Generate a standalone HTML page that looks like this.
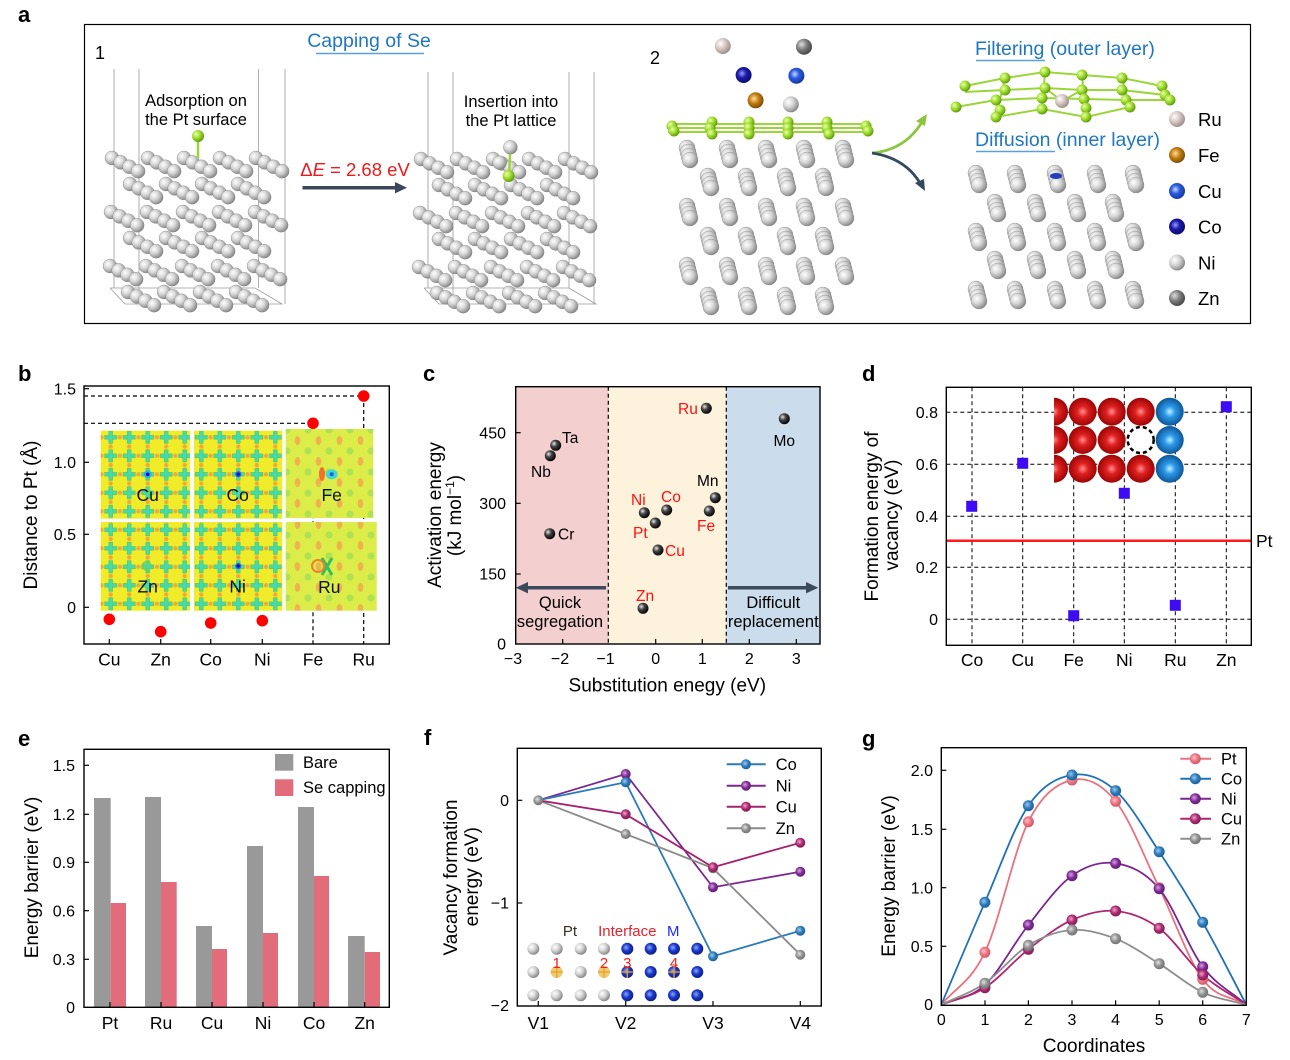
<!DOCTYPE html>
<html><head><meta charset="utf-8"><style>
html,body{margin:0;padding:0;background:#fff;}
svg{display:block;font-family:"Liberation Sans",Arial,sans-serif;}
</style></head><body>
<svg width="1290" height="1060" viewBox="0 0 1290 1060" xmlns="http://www.w3.org/2000/svg">
<defs>
<radialGradient id="gs" cx="0.35" cy="0.35" r="0.7"><stop offset="0" stop-color="#ffffff"/><stop offset="0.45" stop-color="#d6d6d6"/><stop offset="0.85" stop-color="#9a9a9a"/><stop offset="1" stop-color="#7c7c7c"/></radialGradient>
<radialGradient id="gg" cx="0.35" cy="0.35" r="0.7"><stop offset="0" stop-color="#eaffb0"/><stop offset="0.5" stop-color="#9edc2a"/><stop offset="1" stop-color="#5a9410"/></radialGradient>
<radialGradient id="gru" cx="0.35" cy="0.35" r="0.7"><stop offset="0" stop-color="#fff"/><stop offset="0.5" stop-color="#d4c4c0"/><stop offset="1" stop-color="#9a8a86"/></radialGradient>
<radialGradient id="gzn" cx="0.35" cy="0.35" r="0.7"><stop offset="0" stop-color="#ddd"/><stop offset="0.5" stop-color="#7a7a7a"/><stop offset="1" stop-color="#444"/></radialGradient>
<radialGradient id="gco" cx="0.4" cy="0.4" r="0.7"><stop offset="0" stop-color="#9a9aff"/><stop offset="0.4" stop-color="#1a1aa8"/><stop offset="1" stop-color="#080860"/></radialGradient>
<radialGradient id="gcu" cx="0.4" cy="0.4" r="0.7"><stop offset="0" stop-color="#c8d8ff"/><stop offset="0.4" stop-color="#2a5ae0"/><stop offset="1" stop-color="#12308a"/></radialGradient>
<radialGradient id="gfe" cx="0.4" cy="0.4" r="0.7"><stop offset="0" stop-color="#ffe090"/><stop offset="0.45" stop-color="#c07a10"/><stop offset="1" stop-color="#6a4006"/></radialGradient>
<radialGradient id="gk" cx="0.35" cy="0.35" r="0.7"><stop offset="0" stop-color="#e8e8e8"/><stop offset="0.4" stop-color="#444"/><stop offset="1" stop-color="#000"/></radialGradient>
<radialGradient id="gred" cx="0.5" cy="0.5" r="0.55"><stop offset="0" stop-color="#ff9090"/><stop offset="0.35" stop-color="#e02020"/><stop offset="1" stop-color="#900000"/></radialGradient>
<radialGradient id="gblu" cx="0.5" cy="0.5" r="0.55"><stop offset="0" stop-color="#c0f0ff"/><stop offset="0.35" stop-color="#2a9ae8"/><stop offset="1" stop-color="#0a4a8a"/></radialGradient>
<radialGradient id="gfb" cx="0.4" cy="0.4" r="0.7"><stop offset="0" stop-color="#8aa8ff"/><stop offset="0.45" stop-color="#1a36c8"/><stop offset="1" stop-color="#0a1870"/></radialGradient>
<radialGradient id="mco" cx="0.4" cy="0.4" r="0.7"><stop offset="0" stop-color="#9cc8f0"/><stop offset="0.5" stop-color="#2a7ab9"/><stop offset="1" stop-color="#1a5a90"/></radialGradient>
<radialGradient id="mni" cx="0.4" cy="0.4" r="0.7"><stop offset="0" stop-color="#d6a0e6"/><stop offset="0.5" stop-color="#7e2a92"/><stop offset="1" stop-color="#5a1a6a"/></radialGradient>
<radialGradient id="mcu" cx="0.4" cy="0.4" r="0.7"><stop offset="0" stop-color="#f0a0c8"/><stop offset="0.5" stop-color="#a8276f"/><stop offset="1" stop-color="#7a1a50"/></radialGradient>
<radialGradient id="mzn" cx="0.4" cy="0.4" r="0.7"><stop offset="0" stop-color="#e0e0e0"/><stop offset="0.5" stop-color="#8e8e8e"/><stop offset="1" stop-color="#6a6a6a"/></radialGradient>
<radialGradient id="mpt" cx="0.4" cy="0.4" r="0.7"><stop offset="0" stop-color="#ffc0c8"/><stop offset="0.5" stop-color="#e8737f"/><stop offset="1" stop-color="#c85060"/></radialGradient>
<pattern id="p1" x="138.45" y="465.05" width="18.5" height="18.5" patternUnits="userSpaceOnUse">
<rect width="18.5" height="18.5" fill="#f1ec2a"/>
<circle cx="0" cy="9.25" r="2.2" fill="#f3a83c"/><circle cx="18.5" cy="9.25" r="2.2" fill="#f3a83c"/>
<circle cx="9.25" cy="0" r="2.2" fill="#f3a83c"/><circle cx="9.25" cy="18.5" r="2.2" fill="#f3a83c"/>
<rect x="3.25" y="7.45" width="12" height="3.6" fill="#3fdcbc" stroke="#5ec85a" stroke-width="0.8"/>
<rect x="7.45" y="3.25" width="3.6" height="12" fill="#3fdcbc" stroke="#5ec85a" stroke-width="0.8"/>
<rect x="7.6" y="7.6" width="3.3" height="3.3" fill="#3fdcbc"/>
</pattern>
<pattern id="p2" x="229.05" y="465.05" width="18.5" height="18.5" patternUnits="userSpaceOnUse">
<rect width="18.5" height="18.5" fill="#f1ec2a"/>
<circle cx="0" cy="9.25" r="2.2" fill="#f3a83c"/><circle cx="18.5" cy="9.25" r="2.2" fill="#f3a83c"/>
<circle cx="9.25" cy="0" r="2.2" fill="#f3a83c"/><circle cx="9.25" cy="18.5" r="2.2" fill="#f3a83c"/>
<rect x="3.25" y="7.45" width="12" height="3.6" fill="#3fdcbc" stroke="#5ec85a" stroke-width="0.8"/>
<rect x="7.45" y="3.25" width="3.6" height="12" fill="#3fdcbc" stroke="#5ec85a" stroke-width="0.8"/>
<rect x="7.6" y="7.6" width="3.3" height="3.3" fill="#3fdcbc"/>
</pattern>
<pattern id="pf" x="287" y="430" width="21" height="21" patternUnits="userSpaceOnUse">
<rect width="21" height="21" fill="#dcec48"/>
<ellipse cx="10.5" cy="10.5" rx="2.8" ry="4.5" fill="#f0b24c"/>
<circle cx="0" cy="0" r="3.5" fill="#aee252"/><circle cx="21" cy="0" r="3.5" fill="#aee252"/><circle cx="0" cy="21" r="3.5" fill="#aee252"/><circle cx="21" cy="21" r="3.5" fill="#aee252"/>
</pattern>
<g id="g4"><circle cx="0" cy="0" r="7" fill="url(#gs)" stroke="#808080" stroke-width="0.4"/><circle cx="8.7" cy="4.4" r="7" fill="url(#gs)" stroke="#808080" stroke-width="0.4"/><circle cx="17.4" cy="8.8" r="7" fill="url(#gs)" stroke="#808080" stroke-width="0.4"/><circle cx="26.1" cy="13.2" r="7" fill="url(#gs)" stroke="#808080" stroke-width="0.4"/></g>
<g id="st"><circle cx="-3" cy="-12" r="8" fill="url(#gs)" stroke="#888" stroke-width="0.4"/><circle cx="-2" cy="-8" r="8" fill="url(#gs)" stroke="#888" stroke-width="0.4"/><circle cx="-1" cy="-4" r="8" fill="url(#gs)" stroke="#888" stroke-width="0.4"/><circle cx="0" cy="0" r="8" fill="url(#gs)" stroke="#888" stroke-width="0.4"/></g>
<g id="slab1">
<use href="#g4" x="112" y="158"/><use href="#g4" x="148" y="158"/><use href="#g4" x="184" y="158"/><use href="#g4" x="220" y="158"/><use href="#g4" x="256" y="158"/>
<use href="#g4" x="130" y="184"/><use href="#g4" x="166" y="184"/><use href="#g4" x="202" y="184"/><use href="#g4" x="238" y="184"/>
<use href="#g4" x="111" y="212"/><use href="#g4" x="147" y="212"/><use href="#g4" x="183" y="212"/><use href="#g4" x="219" y="212"/><use href="#g4" x="255" y="212"/>
<use href="#g4" x="130" y="238"/><use href="#g4" x="166" y="238"/><use href="#g4" x="202" y="238"/><use href="#g4" x="238" y="238"/>
<use href="#g4" x="110" y="266"/><use href="#g4" x="146" y="266"/><use href="#g4" x="182" y="266"/><use href="#g4" x="218" y="266"/><use href="#g4" x="254" y="266"/>
<use href="#g4" x="128" y="292"/><use href="#g4" x="164" y="292"/><use href="#g4" x="200" y="292"/><use href="#g4" x="236" y="292"/>
</g>
<clipPath id="clipd"><rect x="1054" y="390" width="150" height="100"/></clipPath>
</defs>
<rect width="1290" height="1060" fill="#fff"/>

<!-- ============ Panel a ============ -->
<text x="18" y="22" font-size="22" font-weight="bold">a</text>
<rect x="84.5" y="24.5" width="1166" height="299" fill="none" stroke="#000" stroke-width="1.2"/>
<text x="95" y="59" font-size="18">1</text>
<text x="369" y="47" font-size="19.5" fill="#1f77c4" text-anchor="middle">Capping of Se</text>
<line x1="316" y1="53.5" x2="424" y2="53.5" stroke="#5aa0d8" stroke-width="1.5"/>
<g stroke="#9a9a9a" stroke-width="0.8" fill="none">
<line x1="114" y1="69" x2="114" y2="288"/><line x1="139" y1="69" x2="139" y2="300"/><line x1="258.6" y1="69" x2="258.6" y2="288"/><line x1="285" y1="69" x2="285" y2="304"/>
<polyline points="110,288 255,288 282,304 125,304 110,288"/>
<line x1="428" y1="72" x2="428" y2="288"/><line x1="453" y1="72" x2="453" y2="300"/><line x1="569" y1="72" x2="569" y2="288"/><line x1="594" y1="72" x2="594" y2="304"/>
<polyline points="424,288 569,288 596,304 439,304 424,288"/>
</g>
<use href="#slab1"/>
<use href="#slab1" x="309" y="1"/>
<line x1="198" y1="141" x2="198" y2="158" stroke="#9ad63a" stroke-width="2.5"/>
<circle cx="198" cy="136" r="6" fill="url(#gg)"/>
<circle cx="499.6" cy="162.7" r="7" fill="url(#gs)" stroke="#888" stroke-width="0.4"/>
<circle cx="510.4" cy="147.3" r="7" fill="url(#gs)" stroke="#888" stroke-width="0.4"/>
<line x1="510" y1="154" x2="509" y2="176" stroke="#9ad63a" stroke-width="2.5"/>
<circle cx="508.6" cy="176" r="6" fill="url(#gg)"/>
<text x="196" y="106" font-size="16.5" text-anchor="middle">Adsorption on</text>
<text x="196" y="125" font-size="16.5" text-anchor="middle">the Pt surface</text>
<text x="511" y="107" font-size="16.5" text-anchor="middle">Insertion into</text>
<text x="511" y="126" font-size="16.5" text-anchor="middle">the Pt lattice</text>
<text x="355" y="176" font-size="18.5" fill="#f01818" text-anchor="middle">Δ<tspan font-style="italic">E</tspan> = 2.68 eV</text>
<line x1="302.5" y1="187.7" x2="397" y2="187.7" stroke="#3a475a" stroke-width="3.5"/>
<polygon points="407,187.7 395,182 395,193.4" fill="#3a475a"/>

<text x="650" y="64" font-size="18">2</text>
<circle cx="722.8" cy="46" r="8" fill="url(#gru)"/>
<circle cx="804" cy="46.7" r="8" fill="url(#gzn)"/>
<circle cx="743.6" cy="75" r="8" fill="url(#gco)"/>
<circle cx="796.4" cy="75.7" r="8" fill="url(#gcu)"/>
<circle cx="755.6" cy="100.3" r="8" fill="url(#gfe)"/>
<circle cx="790.8" cy="104.3" r="8" fill="url(#gs)"/>
<g stroke="#9ad63a" stroke-width="2" fill="none">
<line x1="668" y1="124" x2="868" y2="124"/><line x1="668" y1="128" x2="868" y2="128"/><line x1="668" y1="132" x2="868" y2="132"/>
</g>
<g fill="url(#gg)">
<circle cx="672" cy="126" r="5.5"/><circle cx="712" cy="122" r="5.5"/><circle cx="749" cy="122" r="5.5"/><circle cx="788" cy="122" r="5.5"/><circle cx="827" cy="122" r="5.5"/><circle cx="866" cy="126" r="5.5"/>
<circle cx="674" cy="131" r="5.5"/><circle cx="710" cy="128" r="5.5"/><circle cx="749" cy="128" r="5.5"/><circle cx="788" cy="128" r="5.5"/><circle cx="827" cy="128" r="5.5"/><circle cx="868" cy="131" r="5.5"/>
<circle cx="712" cy="134" r="5.5"/><circle cx="749" cy="134" r="5.5"/><circle cx="788" cy="134" r="5.5"/><circle cx="829" cy="134" r="5.5"/>
</g>
<g>
<use href="#st" x="690" y="160"/><use href="#st" x="730" y="160"/><use href="#st" x="769" y="160"/><use href="#st" x="807" y="160"/><use href="#st" x="846" y="160"/>
<use href="#st" x="711" y="188"/><use href="#st" x="749" y="188"/><use href="#st" x="788" y="188"/><use href="#st" x="826" y="188"/>
<use href="#st" x="690" y="218"/><use href="#st" x="730" y="218"/><use href="#st" x="769" y="218"/><use href="#st" x="807" y="218"/><use href="#st" x="846" y="218"/>
<use href="#st" x="711" y="247"/><use href="#st" x="749" y="247"/><use href="#st" x="788" y="247"/><use href="#st" x="826" y="247"/>
<use href="#st" x="690" y="277"/><use href="#st" x="730" y="277"/><use href="#st" x="769" y="277"/><use href="#st" x="807" y="277"/><use href="#st" x="846" y="277"/>
<use href="#st" x="711" y="307"/><use href="#st" x="749" y="307"/><use href="#st" x="788" y="307"/><use href="#st" x="826" y="307"/>
</g>
<path d="M872,153 Q905,150 922,122" fill="none" stroke="#8cc63f" stroke-width="2.8"/>
<polygon points="927,114 916,121 925,126" fill="#8cc63f"/>
<path d="M872,153 Q905,158 920,183" fill="none" stroke="#34495e" stroke-width="2.8"/>
<polygon points="925,191 915,183 924,179" fill="#34495e"/>
<text x="975" y="55" font-size="19.5" fill="#1f77c4">Filtering (outer layer)</text>
<line x1="976" y1="60.5" x2="1045" y2="60.5" stroke="#5aa0d8" stroke-width="1.5"/>
<text x="975" y="146" font-size="19.5" fill="#1f77c4">Diffusion (inner layer)</text>
<line x1="976" y1="151.5" x2="1055" y2="151.5" stroke="#5aa0d8" stroke-width="1.5"/>
<g stroke="#9ad63a" stroke-width="2" fill="none">
<polyline points="965,86 1005,78 1045,72 1082,75 1122,78 1162,86"/>
<polyline points="956,107 996,100 1042,98 1084,99 1126,100 1170,100"/>
<polyline points="996,117 1042,109 1086,117 1130,107"/>
<polyline points="965,92 1005,90 1045,88 1082,90 1122,90 1165,95"/>
<line x1="1045" y1="72" x2="1042" y2="109"/><line x1="1082" y1="75" x2="1086" y2="117"/><line x1="1005" y1="78" x2="996" y2="117"/><line x1="1122" y1="78" x2="1130" y2="107"/>
<line x1="1045" y1="88" x2="1062" y2="101"/><line x1="1082" y1="90" x2="1062" y2="101"/>
</g>
<g fill="url(#gg)">
<circle cx="965" cy="86" r="5.5"/><circle cx="1005" cy="78" r="5.5"/><circle cx="1045" cy="72" r="5.5"/><circle cx="1082" cy="75" r="5.5"/><circle cx="1122" cy="78" r="5.5"/><circle cx="1162" cy="86" r="5.5"/>
<circle cx="1005" cy="90" r="5.5"/><circle cx="1045" cy="88" r="5.5"/><circle cx="1082" cy="90" r="5.5"/><circle cx="1122" cy="90" r="5.5"/><circle cx="1165" cy="95" r="5.5"/>
<circle cx="956" cy="107" r="5.5"/><circle cx="996" cy="100" r="5.5"/><circle cx="1042" cy="98" r="5.5"/><circle cx="1084" cy="99" r="5.5"/><circle cx="1126" cy="100" r="5.5"/><circle cx="1170" cy="100" r="5.5"/>
<circle cx="1000" cy="110" r="5.5"/><circle cx="1086" cy="108" r="5.5"/>
<circle cx="996" cy="117" r="5.5"/><circle cx="1042" cy="109" r="5.5"/><circle cx="1086" cy="117" r="5.5"/><circle cx="1130" cy="107" r="5.5"/>
</g>
<circle cx="1062" cy="101" r="7" fill="url(#gru)"/>
<g>
<use href="#st" x="979" y="185"/><use href="#st" x="1018" y="185"/><use href="#st" x="1058" y="185"/><use href="#st" x="1098" y="185"/><use href="#st" x="1136" y="185"/>
<use href="#st" x="998" y="214"/><use href="#st" x="1038" y="214"/><use href="#st" x="1078" y="214"/><use href="#st" x="1116" y="214"/>
<use href="#st" x="979" y="243"/><use href="#st" x="1018" y="243"/><use href="#st" x="1058" y="243"/><use href="#st" x="1098" y="243"/><use href="#st" x="1136" y="243"/>
<use href="#st" x="998" y="271"/><use href="#st" x="1038" y="271"/><use href="#st" x="1078" y="271"/><use href="#st" x="1116" y="271"/>
<use href="#st" x="979" y="301"/><use href="#st" x="1018" y="301"/><use href="#st" x="1058" y="301"/><use href="#st" x="1098" y="301"/><use href="#st" x="1136" y="301"/>
</g>
<ellipse cx="1056" cy="176" rx="6" ry="3" fill="#2040c0"/>
<circle cx="1177" cy="119" r="8" fill="url(#gru)"/><text x="1198" y="126" font-size="18.5">Ru</text>
<circle cx="1177" cy="155" r="8" fill="url(#gfe)"/><text x="1198" y="162" font-size="18.5">Fe</text>
<circle cx="1177" cy="191" r="8" fill="url(#gcu)"/><text x="1198" y="198" font-size="18.5">Cu</text>
<circle cx="1177" cy="226.5" r="8" fill="url(#gco)"/><text x="1198" y="233.5" font-size="18.5">Co</text>
<circle cx="1177" cy="262.5" r="8" fill="url(#gs)"/><text x="1198" y="269.5" font-size="18.5">Ni</text>
<circle cx="1177" cy="298" r="8" fill="url(#gzn)"/><text x="1198" y="305" font-size="18.5">Zn</text>

<!-- ============ Panel b ============ -->
<text x="18" y="381" font-size="22" font-weight="bold">b</text>
<g stroke="#000" stroke-width="1.2" stroke-dasharray="4,3" fill="none">
<line x1="84" y1="396" x2="363.7" y2="396"/><line x1="84" y1="423.3" x2="313" y2="423.3"/>
<line x1="313" y1="423.3" x2="313" y2="644"/><line x1="363.7" y1="396" x2="363.7" y2="644"/>
</g>
<rect x="100.7" y="430.7" width="89.3" height="88" fill="url(#p1)"/>
<rect x="194" y="430.7" width="88.3" height="88" fill="url(#p2)"/>
<rect x="100.7" y="522" width="89.3" height="88.7" fill="url(#p1)"/>
<rect x="194" y="522" width="88.3" height="88.7" fill="url(#p2)"/>
<rect x="285.7" y="429" width="87.6" height="89" fill="url(#pf)"/>
<rect x="285.7" y="522" width="91" height="88.7" fill="url(#pf)"/>
<circle cx="147.7" cy="474.3" r="4" fill="#28b0f0"/><circle cx="147.7" cy="474.3" r="1.8" fill="#1010c0"/>
<circle cx="238.3" cy="474.3" r="3" fill="#3050f0"/><circle cx="238.3" cy="474.3" r="1.5" fill="#1010a0"/>
<circle cx="238.3" cy="566" r="3" fill="#3050f0"/><circle cx="238.3" cy="566" r="1.5" fill="#1010a0"/>
<circle cx="146.7" cy="566" r="4" fill="none" stroke="#70d060" stroke-width="2"/>
<ellipse cx="331.7" cy="474.3" rx="6" ry="5" fill="#40d8d0"/><ellipse cx="322" cy="474" rx="3" ry="7" fill="#f07030"/><circle cx="331.7" cy="474.3" r="2" fill="#2060e0"/>
<path d="M322,558 L332,575 M332,558 L322,575" stroke="#30c060" stroke-width="3"/><circle cx="318" cy="566" r="6" fill="none" stroke="#f08030" stroke-width="2"/>
<g font-size="17.5" text-anchor="middle" fill="#111">
<text x="147.7" y="501">Cu</text><text x="237.7" y="501">Co</text><text x="331.7" y="501">Fe</text>
<text x="147.7" y="592.5">Zn</text><text x="237.7" y="592.5">Ni</text><text x="329.3" y="593">Ru</text>
</g>
<g fill="#ff0000">
<circle cx="109.3" cy="619.3" r="5.8"/><circle cx="160.7" cy="631.7" r="5.8"/><circle cx="210.7" cy="623" r="5.8"/><circle cx="262.3" cy="620.7" r="5.8"/><circle cx="313" cy="423.3" r="5.8"/><circle cx="363.7" cy="396" r="5.8"/>
</g>
<rect x="84" y="386" width="305.3" height="258" fill="none" stroke="#000" stroke-width="1.4"/>
<g stroke="#000" stroke-width="1.2">
<line x1="109.3" y1="644" x2="109.3" y2="639"/><line x1="160.7" y1="644" x2="160.7" y2="639"/><line x1="210.7" y1="644" x2="210.7" y2="639"/><line x1="262.3" y1="644" x2="262.3" y2="639"/>
<line x1="84" y1="388.7" x2="89" y2="388.7"/><line x1="84" y1="462.3" x2="89" y2="462.3"/><line x1="84" y1="534.3" x2="89" y2="534.3"/><line x1="84" y1="607.3" x2="89" y2="607.3"/>
</g>
<g font-size="16" text-anchor="end">
<text x="76" y="394.5">1.5</text><text x="76" y="468">1.0</text><text x="76" y="540">0.5</text><text x="76" y="613">0</text>
</g>
<g font-size="17.5" text-anchor="middle">
<text x="109.3" y="665.5">Cu</text><text x="160.7" y="665.5">Zn</text><text x="210.7" y="665.5">Co</text><text x="262.3" y="665.5">Ni</text><text x="313" y="665.5">Fe</text><text x="363.7" y="665.5">Ru</text>
</g>
<text transform="translate(37,515) rotate(-90)" font-size="19" text-anchor="middle">Distance to Pt (Å)</text>

<!-- ============ Panel c ============ -->
<text x="423" y="381" font-size="22" font-weight="bold">c</text>
<rect x="515.7" y="386.7" width="92.6" height="257.3" fill="#f4cfcf"/>
<rect x="608.3" y="386.7" width="118" height="257.3" fill="#fdf3dd"/>
<rect x="726.3" y="386.7" width="93.7" height="257.3" fill="#cbdcec"/>
<g stroke="#000" stroke-width="1.2" stroke-dasharray="4,3">
<line x1="608.3" y1="386.7" x2="608.3" y2="644"/><line x1="726.3" y1="386.7" x2="726.3" y2="644"/>
</g>
<line x1="606" y1="587.7" x2="526" y2="587.7" stroke="#3d4a5c" stroke-width="3.5"/>
<polygon points="515.7,587.7 528,582 528,593.4" fill="#3d4a5c"/>
<line x1="728" y1="587.7" x2="808" y2="587.7" stroke="#3d4a5c" stroke-width="3.5"/>
<polygon points="818.3,587.7 806,582 806,593.4" fill="#3d4a5c"/>
<g font-size="16.5" text-anchor="middle">
<text x="560" y="608">Quick</text><text x="560" y="627">segregation</text>
<text x="773.3" y="608">Difficult</text><text x="773.3" y="627">replacement</text>
</g>
<g fill="url(#gk)">
<circle cx="555.7" cy="445.3" r="5.5"/><circle cx="550.3" cy="455.7" r="5.5"/><circle cx="549.7" cy="533.7" r="5.5"/>
<circle cx="706.3" cy="408.3" r="5.5"/><circle cx="784.3" cy="418.7" r="5.5"/><circle cx="715.3" cy="497.7" r="5.5"/><circle cx="709.3" cy="511" r="5.5"/>
<circle cx="644.3" cy="512.7" r="5.5"/><circle cx="666.7" cy="510" r="5.5"/><circle cx="655.3" cy="523" r="5.5"/><circle cx="658" cy="550" r="5.5"/><circle cx="643" cy="608.3" r="5.5"/>
</g>
<g font-size="15.5">
<text x="562" y="443">Ta</text><text x="531" y="477">Nb</text><text x="558" y="539.5">Cr</text>
<text x="784.3" y="446" text-anchor="middle">Mo</text><text x="697" y="486">Mn</text>
</g>
<g font-size="15.5" fill="#ff1010">
<text x="678" y="414">Ru</text><text x="697" y="531">Fe</text><text x="631" y="505">Ni</text><text x="661" y="502">Co</text><text x="633" y="538">Pt</text><text x="665" y="556">Cu</text><text x="636" y="601">Zn</text>
</g>
<rect x="515.7" y="386.7" width="304.3" height="257.3" fill="none" stroke="#000" stroke-width="1.4"/>
<g stroke="#000" stroke-width="1.2">
<line x1="562.7" y1="644" x2="562.7" y2="639"/><line x1="655.7" y1="644" x2="655.7" y2="639"/><line x1="702.3" y1="644" x2="702.3" y2="639"/><line x1="749.3" y1="644" x2="749.3" y2="639"/><line x1="796.3" y1="644" x2="796.3" y2="639"/>
<line x1="515.7" y1="574" x2="520.7" y2="574"/><line x1="515.7" y1="503.3" x2="520.7" y2="503.3"/><line x1="515.7" y1="432.7" x2="520.7" y2="432.7"/>
</g>
<g font-size="16" text-anchor="end">
<text x="506" y="438.5">450</text><text x="506" y="509">300</text><text x="506" y="579.5">150</text><text x="506" y="649.5">0</text>
</g>
<g font-size="16" text-anchor="middle">
<text x="513" y="664">−3</text><text x="560" y="664">−2</text><text x="605.5" y="664">−1</text><text x="655.7" y="664">0</text><text x="702.3" y="664">1</text><text x="749.3" y="664">2</text><text x="796.3" y="664">3</text>
</g>
<text x="667.3" y="691.5" font-size="19" text-anchor="middle">Substitution enegy (eV)</text>
<text transform="translate(441,515) rotate(-90)" font-size="19" text-anchor="middle">Activation energy</text>
<text transform="translate(461,515.5) rotate(-90)" font-size="19" text-anchor="middle">(kJ mol<tspan font-size="12" dy="-7">−1</tspan><tspan dy="7">)</tspan></text>

<!-- ============ Panel d ============ -->
<text x="862" y="381" font-size="22" font-weight="bold">d</text>
<g stroke="#000" stroke-width="1" stroke-dasharray="4,3">
<line x1="972" y1="387.3" x2="972" y2="645.3"/><line x1="1022.7" y1="387.3" x2="1022.7" y2="645.3"/><line x1="1073.7" y1="387.3" x2="1073.7" y2="645.3"/><line x1="1124.3" y1="387.3" x2="1124.3" y2="645.3"/><line x1="1175.3" y1="387.3" x2="1175.3" y2="645.3"/><line x1="1226.3" y1="387.3" x2="1226.3" y2="645.3"/>
<line x1="946.3" y1="412.3" x2="1251.3" y2="412.3"/><line x1="946.3" y1="464.3" x2="1251.3" y2="464.3"/><line x1="946.3" y1="516.3" x2="1251.3" y2="516.3"/><line x1="946.3" y1="567.3" x2="1251.3" y2="567.3"/><line x1="946.3" y1="619.3" x2="1251.3" y2="619.3"/>
</g>
<line x1="946.3" y1="540.7" x2="1251.3" y2="540.7" stroke="#ff1a1a" stroke-width="2.5"/>
<g clip-path="url(#clipd)" fill="url(#gred)">
<circle cx="1054" cy="411.7" r="14"/><circle cx="1054" cy="440" r="14"/><circle cx="1054" cy="468.7" r="14"/>
</g>
<g fill="url(#gred)">
<circle cx="1082.7" cy="411.7" r="14"/><circle cx="1111.7" cy="411.7" r="14"/><circle cx="1140.7" cy="411.7" r="14"/>
<circle cx="1082.7" cy="440" r="14"/><circle cx="1111.7" cy="440" r="14"/>
<circle cx="1082.7" cy="468.7" r="14"/><circle cx="1111.7" cy="468.7" r="14"/><circle cx="1140.7" cy="468.7" r="14"/>
</g>
<g fill="url(#gblu)">
<circle cx="1169.7" cy="411.7" r="14"/><circle cx="1169.7" cy="440" r="14"/><circle cx="1169.7" cy="468.7" r="14"/>
</g>
<circle cx="1140.7" cy="440" r="13" fill="none" stroke="#000" stroke-width="2.5" stroke-dasharray="4,3"/>
<g fill="#3d0cf5">
<rect x="966.2" y="500.8" width="11" height="11"/><rect x="1017.2" y="457.8" width="11" height="11"/><rect x="1068.2" y="610.2" width="11" height="11"/><rect x="1118.8" y="487.8" width="11" height="11"/><rect x="1169.8" y="599.8" width="11" height="11"/><rect x="1220.8" y="401.2" width="11" height="11"/>
</g>
<rect x="946.3" y="387.3" width="305" height="258" fill="none" stroke="#000" stroke-width="1.4"/>
<g font-size="16" text-anchor="end">
<text x="938" y="418">0.8</text><text x="938" y="470">0.6</text><text x="938" y="522">0.4</text><text x="938" y="573">0.2</text><text x="938" y="625">0</text>
</g>
<g font-size="17.5" text-anchor="middle">
<text x="972" y="666">Co</text><text x="1022.7" y="666">Cu</text><text x="1073.7" y="666">Fe</text><text x="1124.3" y="666">Ni</text><text x="1175.3" y="666">Ru</text><text x="1226.3" y="666">Zn</text>
</g>
<text x="1256" y="547" font-size="17.5">Pt</text>
<text transform="translate(878,516.5) rotate(-90)" font-size="19" text-anchor="middle">Formation energy of</text>
<text transform="translate(898,515) rotate(-90)" font-size="19" text-anchor="middle">vacancy (eV)</text>

<!-- ============ Panel e ============ -->
<text x="18" y="746" font-size="22" font-weight="bold">e</text>
<g fill="#999999">
<rect x="94" y="798" width="16.7" height="209.3"/><rect x="145" y="797" width="16" height="210.3"/><rect x="196" y="926" width="16" height="81.3"/><rect x="247" y="846" width="16" height="161.3"/><rect x="298" y="807" width="16" height="200.3"/><rect x="348" y="936" width="16.7" height="71.3"/>
</g>
<g fill="#e26c7a">
<rect x="110.7" y="903" width="15.3" height="104.3"/><rect x="161" y="882" width="15.7" height="125.3"/><rect x="212" y="949" width="15" height="58.3"/><rect x="263" y="933" width="15" height="74.3"/><rect x="314" y="876" width="15" height="131.3"/><rect x="364.7" y="952" width="15.3" height="55.3"/>
</g>
<rect x="84" y="749.3" width="305.3" height="258" fill="none" stroke="#000" stroke-width="1.4"/>
<g stroke="#000" stroke-width="1.2">
<line x1="110" y1="1007.3" x2="110" y2="1002"/><line x1="161" y1="1007.3" x2="161" y2="1002"/><line x1="212" y1="1007.3" x2="212" y2="1002"/><line x1="263" y1="1007.3" x2="263" y2="1002"/><line x1="314" y1="1007.3" x2="314" y2="1002"/><line x1="364.7" y1="1007.3" x2="364.7" y2="1002"/>
<line x1="84" y1="765.3" x2="89" y2="765.3"/><line x1="84" y1="814.3" x2="89" y2="814.3"/><line x1="84" y1="862.3" x2="89" y2="862.3"/><line x1="84" y1="910.7" x2="89" y2="910.7"/><line x1="84" y1="959.3" x2="89" y2="959.3"/>
</g>
<rect x="275" y="754" width="18.3" height="16.7" fill="#999999"/>
<text x="303" y="768" font-size="16.5">Bare</text>
<rect x="275" y="779.3" width="18.3" height="16.7" fill="#e26c7a"/>
<text x="303" y="793" font-size="16.5">Se capping</text>
<g font-size="16" text-anchor="end">
<text x="75" y="771">1.5</text><text x="75" y="820">1.2</text><text x="75" y="868">0.9</text><text x="75" y="916.5">0.6</text><text x="75" y="965">0.3</text><text x="75" y="1013">0</text>
</g>
<g font-size="17.5" text-anchor="middle">
<text x="110" y="1029">Pt</text><text x="161" y="1029">Ru</text><text x="212" y="1029">Cu</text><text x="263" y="1029">Ni</text><text x="314" y="1029">Co</text><text x="364.7" y="1029">Zn</text>
</g>
<text transform="translate(38,877.5) rotate(-90)" font-size="19" text-anchor="middle">Energy barrier (eV)</text>

<!-- ============ Panel f ============ -->
<text x="424" y="745" font-size="22" font-weight="bold">f</text>
<g fill="none" stroke-width="1.8">
<polyline points="538.3,800.3 625.7,774 713,887.3 800.3,871.7" stroke="#7b2990"/>
<polyline points="538.3,800.3 625.7,782.3 713,956.3 800.3,930.7" stroke="#2b7bba"/>
<polyline points="538.3,800.3 625.7,834 713,868.3 800.3,954.7" stroke="#8a8a8a"/>
<polyline points="538.3,800.3 625.7,814.3 713,867.3 800.3,842.7" stroke="#a3236f"/>
</g>
<g>
<circle cx="625.7" cy="774" r="5" fill="url(#mni)"/><circle cx="713" cy="887.3" r="5" fill="url(#mni)"/><circle cx="800.3" cy="871.7" r="5" fill="url(#mni)"/>
<circle cx="625.7" cy="782.3" r="5" fill="url(#mco)"/><circle cx="713" cy="956.3" r="5" fill="url(#mco)"/><circle cx="800.3" cy="930.7" r="5" fill="url(#mco)"/>
<circle cx="625.7" cy="834" r="5" fill="url(#mzn)"/><circle cx="713" cy="868.3" r="5" fill="url(#mzn)"/><circle cx="800.3" cy="954.7" r="5" fill="url(#mzn)"/>
<circle cx="625.7" cy="814.3" r="5" fill="url(#mcu)"/><circle cx="713" cy="867.3" r="5" fill="url(#mcu)"/><circle cx="800.3" cy="842.7" r="5" fill="url(#mcu)"/>
<circle cx="538.3" cy="800.3" r="5" fill="url(#mzn)"/>
</g>
<g stroke-width="2">
<line x1="726.7" y1="764.3" x2="765.7" y2="764.3" stroke="#2b7bba"/><circle cx="746" cy="764.3" r="5" fill="url(#mco)"/>
<line x1="726.7" y1="785.7" x2="765.7" y2="785.7" stroke="#7b2990"/><circle cx="746" cy="785.7" r="5" fill="url(#mni)"/>
<line x1="726.7" y1="806.7" x2="765.7" y2="806.7" stroke="#a3236f"/><circle cx="746" cy="806.7" r="5" fill="url(#mcu)"/>
<line x1="726.7" y1="828.3" x2="765.7" y2="828.3" stroke="#8a8a8a"/><circle cx="746" cy="828.3" r="5" fill="url(#mzn)"/>
</g>
<g font-size="16.5">
<text x="775.7" y="770">Co</text><text x="775.7" y="791.5">Ni</text><text x="775.7" y="812.5">Cu</text><text x="775.7" y="834">Zn</text>
</g>
<text x="570" y="936" font-size="15" text-anchor="middle" fill="#3a3020">Pt</text>
<text x="627.3" y="936" font-size="15" text-anchor="middle" fill="#e8202a">Interface</text>
<text x="673.3" y="936" font-size="15" text-anchor="middle" fill="#1a2aff">M</text>
<g>
<circle cx="533.3" cy="948.7" r="6" fill="url(#gs)"/><circle cx="556.7" cy="948.7" r="6" fill="url(#gs)"/><circle cx="580.7" cy="948.7" r="6" fill="url(#gs)"/><circle cx="604" cy="948.7" r="6" fill="url(#gs)"/>
<circle cx="627.3" cy="948.7" r="6" fill="url(#gfb)"/><circle cx="650.7" cy="948.7" r="6" fill="url(#gfb)"/><circle cx="674" cy="948.7" r="6" fill="url(#gfb)"/><circle cx="697.3" cy="948.7" r="6" fill="url(#gfb)"/>
<circle cx="533.3" cy="972" r="6" fill="url(#gs)"/><circle cx="556.7" cy="972" r="6" fill="#e8cc78"/><circle cx="580.7" cy="972" r="6" fill="url(#gs)"/><circle cx="604" cy="972" r="6" fill="#e8cc78"/>
<circle cx="627.3" cy="972" r="6" fill="url(#gfb)"/><circle cx="650.7" cy="972" r="6" fill="url(#gfb)"/><circle cx="674" cy="972" r="6" fill="url(#gfb)"/><circle cx="697.3" cy="972" r="6" fill="url(#gfb)"/>
<circle cx="533.3" cy="995.3" r="6" fill="url(#gs)"/><circle cx="556.7" cy="995.3" r="6" fill="url(#gs)"/><circle cx="580.7" cy="995.3" r="6" fill="url(#gs)"/><circle cx="604" cy="995.3" r="6" fill="url(#gs)"/>
<circle cx="627.3" cy="995.3" r="6" fill="url(#gfb)"/><circle cx="650.7" cy="995.3" r="6" fill="url(#gfb)"/><circle cx="674" cy="995.3" r="6" fill="url(#gfb)"/><circle cx="697.3" cy="995.3" r="6" fill="url(#gfb)"/>
</g>
<g stroke="#f0a020" stroke-width="1.3">
<line x1="550.7" y1="972" x2="562.7" y2="972"/><line x1="556.7" y1="966" x2="556.7" y2="978"/>
<line x1="598" y1="972" x2="610" y2="972"/><line x1="604" y1="966" x2="604" y2="978"/>
<line x1="621.3" y1="972" x2="633.3" y2="972"/><line x1="627.3" y1="966" x2="627.3" y2="978"/>
<line x1="668" y1="972" x2="680" y2="972"/><line x1="674" y1="966" x2="674" y2="978"/>
</g>
<g font-size="15" fill="#ff1a1a" text-anchor="middle">
<text x="556.7" y="968">1</text><text x="604" y="968">2</text><text x="627.3" y="968">3</text><text x="674" y="968">4</text>
</g>
<rect x="517.3" y="748.3" width="304" height="257.7" fill="none" stroke="#000" stroke-width="1.4"/>
<g stroke="#000" stroke-width="1.2">
<line x1="538.3" y1="1006" x2="538.3" y2="1001"/><line x1="625.7" y1="1006" x2="625.7" y2="1001"/><line x1="713" y1="1006" x2="713" y2="1001"/><line x1="800.3" y1="1006" x2="800.3" y2="1001"/>
<line x1="517.3" y1="800.3" x2="522.3" y2="800.3"/><line x1="517.3" y1="903" x2="522.3" y2="903"/>
</g>
<g font-size="16" text-anchor="end">
<text x="509" y="806">0</text><text x="509" y="908.5">−1</text><text x="509" y="1011">−2</text>
</g>
<g font-size="17.5" text-anchor="middle">
<text x="538.3" y="1029">V1</text><text x="625.7" y="1029">V2</text><text x="713" y="1029">V3</text><text x="800.3" y="1029">V4</text>
</g>
<text transform="translate(457,877.5) rotate(-90)" font-size="19" text-anchor="middle">Vacancy formation</text>
<text transform="translate(478,876.7) rotate(-90)" font-size="19" text-anchor="middle">energy (eV)</text>

<!-- ============ Panel g ============ -->
<text x="862" y="746" font-size="22" font-weight="bold">g</text>
<g fill="none" stroke-width="1.8">
<path stroke="#e8737f" d="M941.3,1004.7 C955.8,987.2 970.4,982.8 984.9,952.3 C999.4,921.8 1013.9,850.4 1028.4,821.7 C1042.9,793.0 1057.5,783.4 1072.0,780 C1086.5,776.6 1101.1,783.4 1115.6,801.3 C1130.1,819.3 1144.7,858.0 1159.2,887.7 C1173.7,917.4 1188.2,959.8 1202.7,979.3 C1217.2,998.8 1231.8,996.2 1246.3,1004.7"/>
<path stroke="#2070b8" d="M941.3,1004.7 C955.8,970.6 970.4,935.5 984.9,902.3 C999.4,869.1 1013.9,826.9 1028.4,805.7 C1042.9,784.5 1057.5,777.5 1072.0,775 C1086.5,772.5 1101.1,777.9 1115.6,790.7 C1130.1,803.5 1144.7,829.8 1159.2,851.7 C1173.7,873.6 1188.2,896.8 1202.7,922.3 C1217.2,947.8 1231.8,977.2 1246.3,1004.7"/>
<path stroke="#7b2590" d="M941.3,1004.7 C955.8,998.1 970.4,998.3 984.9,985.0 C999.4,971.7 1013.9,943.2 1028.4,925 C1042.9,906.8 1057.5,886.0 1072.0,875.7 C1086.5,865.4 1101.1,861.1 1115.6,863.3 C1130.1,865.5 1144.7,871.5 1159.2,888.7 C1173.7,905.9 1188.2,947.4 1202.7,966.7 C1217.2,986.0 1231.8,992.0 1246.3,1004.7"/>
<path stroke="#b02570" d="M941.3,1004.7 C955.8,999.0 970.4,996.9 984.9,987.7 C999.4,978.5 1013.9,960.6 1028.4,949.3 C1042.9,938.0 1057.5,926.4 1072.0,920 C1086.5,913.6 1101.1,909.6 1115.6,911 C1130.1,912.4 1144.7,917.6 1159.2,928.3 C1173.7,939.0 1188.2,962.3 1202.7,975 C1217.2,987.7 1231.8,994.8 1246.3,1004.7"/>
<path stroke="#8e8e8e" d="M941.3,1004.7 C955.8,997.6 970.4,993.2 984.9,983.3 C999.4,973.4 1013.9,954.2 1028.4,945.3 C1042.9,936.4 1057.5,931.1 1072.0,930 C1086.5,928.9 1101.1,933.1 1115.6,938.7 C1130.1,944.3 1144.7,954.8 1159.2,963.7 C1173.7,972.6 1188.2,985.5 1202.7,992.3 C1217.2,999.1 1231.8,1000.6 1246.3,1004.7"/>
</g>
<g>
<circle cx="984.9" cy="952.3" r="5.5" fill="url(#mpt)"/><circle cx="1028.4" cy="821.7" r="5.5" fill="url(#mpt)"/><circle cx="1072" cy="780" r="5.5" fill="url(#mpt)"/><circle cx="1115.6" cy="801.3" r="5.5" fill="url(#mpt)"/><circle cx="1159.2" cy="887.7" r="5.5" fill="url(#mpt)"/><circle cx="1202.7" cy="979.3" r="5.5" fill="url(#mpt)"/>
<circle cx="984.9" cy="902.3" r="5.5" fill="url(#mco)"/><circle cx="1028.4" cy="805.7" r="5.5" fill="url(#mco)"/><circle cx="1072" cy="775" r="5.5" fill="url(#mco)"/><circle cx="1115.6" cy="790.7" r="5.5" fill="url(#mco)"/><circle cx="1159.2" cy="851.7" r="5.5" fill="url(#mco)"/><circle cx="1202.7" cy="922.3" r="5.5" fill="url(#mco)"/>
<circle cx="984.9" cy="985" r="5.5" fill="url(#mni)"/><circle cx="1028.4" cy="925" r="5.5" fill="url(#mni)"/><circle cx="1072" cy="875.7" r="5.5" fill="url(#mni)"/><circle cx="1115.6" cy="863.3" r="5.5" fill="url(#mni)"/><circle cx="1159.2" cy="888.7" r="5.5" fill="url(#mni)"/><circle cx="1202.7" cy="966.7" r="5.5" fill="url(#mni)"/>
<circle cx="984.9" cy="987.7" r="5.5" fill="url(#mcu)"/><circle cx="1028.4" cy="949.3" r="5.5" fill="url(#mcu)"/><circle cx="1072" cy="920" r="5.5" fill="url(#mcu)"/><circle cx="1115.6" cy="911" r="5.5" fill="url(#mcu)"/><circle cx="1159.2" cy="928.3" r="5.5" fill="url(#mcu)"/><circle cx="1202.7" cy="975" r="5.5" fill="url(#mcu)"/>
<circle cx="984.9" cy="983.3" r="5.5" fill="url(#mzn)"/><circle cx="1028.4" cy="945.3" r="5.5" fill="url(#mzn)"/><circle cx="1072" cy="930" r="5.5" fill="url(#mzn)"/><circle cx="1115.6" cy="938.7" r="5.5" fill="url(#mzn)"/><circle cx="1159.2" cy="963.7" r="5.5" fill="url(#mzn)"/><circle cx="1202.7" cy="992.3" r="5.5" fill="url(#mzn)"/>
</g>
<g stroke-width="2">
<line x1="1180.3" y1="758.7" x2="1211" y2="758.7" stroke="#e8737f"/><circle cx="1195.3" cy="758.7" r="5.5" fill="url(#mpt)"/>
<line x1="1180.3" y1="778.7" x2="1211" y2="778.7" stroke="#2070b8"/><circle cx="1195.3" cy="778.7" r="5.5" fill="url(#mco)"/>
<line x1="1180.3" y1="798.7" x2="1211" y2="798.7" stroke="#7b2590"/><circle cx="1195.3" cy="798.7" r="5.5" fill="url(#mni)"/>
<line x1="1180.3" y1="818.7" x2="1211" y2="818.7" stroke="#b02570"/><circle cx="1195.3" cy="818.7" r="5.5" fill="url(#mcu)"/>
<line x1="1180.3" y1="838.7" x2="1211" y2="838.7" stroke="#8e8e8e"/><circle cx="1195.3" cy="838.7" r="5.5" fill="url(#mzn)"/>
</g>
<g font-size="16.5">
<text x="1221" y="764.5">Pt</text><text x="1221" y="784.5">Co</text><text x="1221" y="804.5">Ni</text><text x="1221" y="824.5">Cu</text><text x="1221" y="844.5">Zn</text>
</g>
<rect x="941.3" y="747.7" width="305" height="257.6" fill="none" stroke="#000" stroke-width="1.4"/>
<g stroke="#000" stroke-width="1.2">
<line x1="985" y1="1005.3" x2="985" y2="1000.3"/><line x1="1028.4" y1="1005.3" x2="1028.4" y2="1000.3"/><line x1="1072" y1="1005.3" x2="1072" y2="1000.3"/><line x1="1115.6" y1="1005.3" x2="1115.6" y2="1000.3"/><line x1="1159.2" y1="1005.3" x2="1159.2" y2="1000.3"/><line x1="1202.7" y1="1005.3" x2="1202.7" y2="1000.3"/>
<line x1="941.3" y1="946.3" x2="946.3" y2="946.3"/><line x1="941.3" y1="887.7" x2="946.3" y2="887.7"/><line x1="941.3" y1="829.3" x2="946.3" y2="829.3"/><line x1="941.3" y1="770.3" x2="946.3" y2="770.3"/>
</g>
<g font-size="16" text-anchor="end">
<text x="933" y="1010">0</text><text x="933" y="952">0.5</text><text x="933" y="893.5">1.0</text><text x="933" y="835">1.5</text><text x="933" y="776">2.0</text>
</g>
<g font-size="16" text-anchor="middle">
<text x="941.3" y="1025">0</text><text x="985" y="1025">1</text><text x="1028.4" y="1025">2</text><text x="1072" y="1025">3</text><text x="1115.6" y="1025">4</text><text x="1159.2" y="1025">5</text><text x="1202.7" y="1025">6</text><text x="1246.3" y="1025">7</text>
</g>
<text x="1094" y="1052" font-size="19" text-anchor="middle">Coordinates</text>
<text transform="translate(895,876) rotate(-90)" font-size="19" text-anchor="middle">Energy barrier (eV)</text>
</svg>
</body></html>
